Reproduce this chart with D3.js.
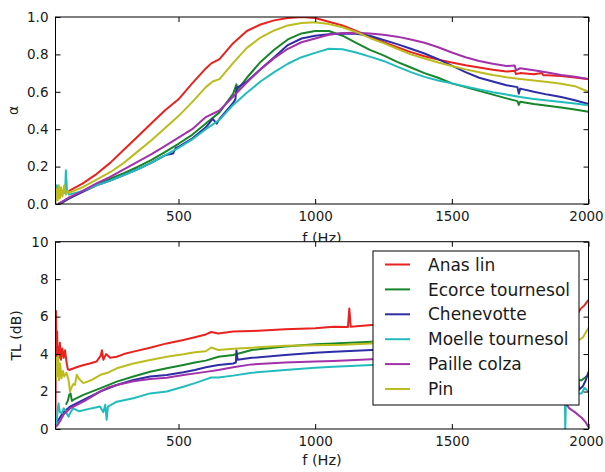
<!DOCTYPE html>
<html><head><meta charset="utf-8">
<script src="https://cdn.jsdelivr.net/npm/d3@7/dist/d3.min.js"></script>
<style>
body{margin:0;background:#fff}
svg text{font-family:"DejaVu Sans",sans-serif;fill:#1a1a1a}
</style>
</head><body>
<svg id="chart" width="605" height="472"></svg>
<script>
// ---------- DATA ----------
const seriesNames = ["Anas lin","Ecorce tournesol","Chenevotte","Moelle tournesol","Paille colza","Pin"];
const seriesColors = ["#e8221e","#17852a","#2d2da6","#22bcbd","#a232aa","#bcbc1f"];
const freqTicks = [500,1000,1500,2000];
const alphaTicks = [0,0.2,0.4,0.6,0.8,1.0];
const tlTicks = [0,2,4,6,8,10];

// absorption coefficient (top) : [f (Hz), alpha]
const alphaAnasLin = [[52,0.03],[58,0.06],[62,0.04],[70,0.05],[80,0.06],[100,0.07],[150,0.11],[200,0.16],[250,0.22],[300,0.29],[350,0.36],[400,0.43],[450,0.5],[500,0.56],[550,0.645],[600,0.725],[620,0.752],[650,0.775],[700,0.86],[750,0.925],[800,0.96],[850,0.982],[900,0.995],[950,1.0],[1000,0.995],[1050,0.975],[1100,0.955],[1150,0.925],[1200,0.895],[1250,0.865],[1300,0.838],[1350,0.812],[1400,0.79],[1450,0.772],[1500,0.757],[1550,0.742],[1600,0.73],[1650,0.718],[1700,0.708],[1730,0.712],[1735,0.695],[1750,0.7],[1800,0.694],[1830,0.7],[1835,0.688],[1850,0.689],[1900,0.684],[1950,0.676],[2000,0.667]];
const alphaEcorce = [[68,0.0],[100,0.03],[150,0.07],[200,0.105],[250,0.135],[300,0.165],[350,0.198],[400,0.235],[450,0.278],[500,0.322],[550,0.37],[600,0.43],[650,0.49],[700,0.59],[712,0.64],[716,0.61],[750,0.675],[800,0.76],[850,0.825],[900,0.88],[950,0.912],[1000,0.925],[1050,0.925],[1100,0.9],[1150,0.862],[1200,0.824],[1250,0.795],[1300,0.76],[1350,0.73],[1400,0.7],[1450,0.675],[1500,0.645],[1550,0.625],[1600,0.605],[1650,0.585],[1700,0.565],[1740,0.55],[1745,0.53],[1750,0.547],[1800,0.535],[1850,0.525],[1900,0.516],[1950,0.505],[2000,0.493]];
const alphaChenevotte = [[60,0.0],[100,0.03],[150,0.065],[200,0.1],[250,0.125],[300,0.155],[350,0.185],[400,0.22],[450,0.26],[480,0.27],[490,0.3],[500,0.305],[550,0.35],[600,0.41],[625,0.455],[640,0.43],[650,0.455],[700,0.54],[708,0.56],[712,0.62],[750,0.655],[800,0.72],[850,0.785],[900,0.85],[950,0.885],[1000,0.9],[1050,0.908],[1100,0.912],[1150,0.91],[1200,0.9],[1250,0.877],[1300,0.855],[1350,0.83],[1400,0.805],[1450,0.775],[1500,0.74],[1550,0.705],[1600,0.675],[1650,0.655],[1700,0.635],[1740,0.625],[1745,0.59],[1750,0.617],[1800,0.6],[1850,0.585],[1900,0.572],[1950,0.555],[2000,0.535]];
const alphaMoelle = [[50,0.02],[55,0.1],[60,0.05],[65,0.08],[70,0.06],[80,0.07],[85,0.06],[88,0.18],[92,0.07],[100,0.05],[150,0.07],[200,0.1],[250,0.125],[300,0.155],[350,0.185],[400,0.22],[450,0.26],[500,0.3],[550,0.345],[600,0.4],[650,0.45],[700,0.53],[750,0.595],[800,0.655],[850,0.705],[900,0.75],[950,0.785],[1000,0.808],[1050,0.83],[1100,0.828],[1150,0.81],[1200,0.788],[1250,0.765],[1300,0.735],[1350,0.705],[1400,0.68],[1450,0.66],[1500,0.645],[1550,0.628],[1600,0.613],[1650,0.598],[1700,0.585],[1750,0.572],[1800,0.562],[1850,0.553],[1900,0.545],[1950,0.537],[2000,0.528]];
const alphaPaille = [[60,0.0],[100,0.035],[150,0.07],[200,0.11],[250,0.145],[300,0.185],[350,0.225],[400,0.265],[450,0.31],[500,0.355],[550,0.4],[600,0.465],[650,0.5],[700,0.575],[750,0.65],[800,0.72],[850,0.78],[900,0.83],[950,0.865],[1000,0.885],[1050,0.905],[1100,0.914],[1150,0.916],[1200,0.912],[1250,0.905],[1300,0.895],[1350,0.88],[1400,0.862],[1450,0.838],[1500,0.81],[1550,0.785],[1600,0.765],[1650,0.75],[1700,0.738],[1730,0.74],[1735,0.715],[1750,0.726],[1800,0.715],[1850,0.703],[1900,0.69],[1950,0.68],[2000,0.668]];
const alphaPin = [[50,0.0],[54,0.08],[58,0.02],[62,0.1],[66,0.03],[70,0.09],[75,0.04],[82,0.1],[88,0.05],[95,0.07],[100,0.06],[150,0.09],[200,0.13],[250,0.17],[300,0.22],[350,0.28],[400,0.34],[450,0.405],[500,0.47],[550,0.545],[600,0.625],[625,0.655],[650,0.668],[700,0.755],[750,0.835],[800,0.89],[850,0.928],[900,0.955],[950,0.968],[1000,0.972],[1050,0.962],[1100,0.945],[1150,0.92],[1200,0.888],[1250,0.86],[1300,0.83],[1350,0.8],[1400,0.778],[1450,0.757],[1500,0.738],[1550,0.72],[1600,0.705],[1650,0.69],[1700,0.678],[1750,0.668],[1800,0.66],[1850,0.652],[1900,0.643],[1950,0.63],[2000,0.6]];

// transmission loss (bottom) : [f (Hz), TL dB]
const tlAnasLin = [[50,0.5],[52,6.3],[54,3.5],[56,5.2],[58,3.6],[60,4.4],[63,3.8],[66,4.6],[70,3.7],[75,4.3],[80,3.8],[85,4.2],[90,3.6],[95,3.2],[100,3.15],[127,3.3],[150,3.4],[176,3.5],[200,3.6],[215,3.9],[220,4.2],[225,3.7],[235,4.0],[250,3.8],[274,3.86],[300,4.0],[335,4.13],[396,4.34],[457,4.57],[518,4.75],[560,4.9],[600,5.05],[620,5.18],[646,5.1],[700,5.2],[768,5.23],[890,5.32],[1000,5.38],[1067,5.46],[1120,5.45],[1125,6.44],[1130,5.46],[1207,5.55],[1400,5.6],[1600,5.65],[1800,5.75],[1950,5.9],[1970,6.4],[1985,6.6],[2000,6.9]];
const tlEcorce = [[88,1.3],[95,1.5],[100,1.82],[105,1.9],[110,1.5],[120,1.6],[152,1.82],[213,2.17],[274,2.53],[335,2.8],[396,3.06],[457,3.24],[518,3.42],[560,3.55],[600,3.65],[646,3.86],[700,3.95],[768,4.22],[890,4.4],[1000,4.52],[1067,4.57],[1207,4.66],[1400,4.75],[1600,4.8],[1800,4.85],[1950,4.8],[1962,2.6],[1975,2.6],[2000,2.9]];
const tlChenevotte = [[52,0.3],[57,0.4],[70,0.7],[81,0.92],[103,1.19],[152,1.55],[213,2.0],[274,2.35],[335,2.62],[396,2.8],[457,2.88],[518,3.03],[560,3.15],[600,3.3],[646,3.42],[700,3.5],[710,3.55],[712,4.2],[716,3.7],[768,3.8],[890,3.95],[1000,4.07],[1067,4.13],[1207,4.22],[1400,4.3],[1600,4.35],[1800,4.4],[1955,4.4],[1965,2.1],[1980,2.3],[1990,2.6],[2000,3.05]];
const tlMoelle = [[50,0.1],[54,0.4],[58,1.0],[61,1.37],[66,0.9],[73,0.84],[80,1.1],[86,1.0],[92,0.8],[98,0.66],[105,0.9],[115,1.1],[135,0.95],[152,1.0],[180,1.1],[213,1.2],[225,0.9],[232,1.3],[237,0.5],[242,1.2],[274,1.46],[335,1.64],[396,1.9],[457,2.0],[518,2.26],[560,2.45],[600,2.65],[620,2.75],[646,2.75],[700,2.85],[768,3.0],[890,3.15],[1000,3.27],[1067,3.33],[1207,3.42],[1400,3.5],[1600,3.55],[1800,3.6],[1912,3.6],[1915,0.0],[1918,1.8],[1950,1.9],[1975,1.9],[1985,2.2],[2000,2.0]];
const tlPaille = [[50,0.1],[57,0.2],[70,0.5],[81,0.8],[103,1.1],[152,1.46],[180,1.7],[213,2.0],[240,2.2],[274,2.35],[335,2.55],[396,2.67],[457,2.74],[518,2.88],[600,3.05],[646,3.15],[700,3.3],[768,3.45],[890,3.55],[1000,3.6],[1067,3.63],[1207,3.72],[1400,3.78],[1600,3.82],[1800,3.85],[1890,3.85],[1905,2.0],[1915,1.4],[1930,1.1],[1950,0.9],[1975,0.6],[1990,0.35],[2000,0.1]];
const tlPin = [[50,2.6],[53,3.8],[56,2.8],[60,3.9],[63,2.6],[67,3.5],[72,2.7],[77,3.1],[82,2.8],[90,3.0],[98,2.6],[103,2.0],[108,2.2],[115,2.4],[121,2.35],[128,2.9],[135,2.7],[152,2.45],[180,2.6],[213,2.88],[240,3.0],[274,3.24],[300,3.35],[335,3.5],[396,3.68],[457,3.86],[518,3.99],[560,4.1],[600,4.15],[620,4.35],[646,4.22],[700,4.28],[768,4.34],[890,4.45],[1000,4.47],[1100,4.5],[1207,4.57],[1212,4.7],[1400,4.65],[1600,4.65],[1800,4.7],[1960,4.7],[1980,4.9],[2000,5.4]];

const alphaSeries = [alphaAnasLin, alphaEcorce, alphaChenevotte, alphaMoelle, alphaPaille, alphaPin];
const tlSeries = [tlAnasLin, tlEcorce, tlChenevotte, tlMoelle, tlPaille, tlPin];

// ---------- DRAW ----------
const svg = d3.select("#chart");
const L = 55.5, R = 588.5;
const x = d3.scaleLinear().domain([50, 2000]).range([L, R]);

function panel(id, top, bottom, domain, ticks, fmt, series) {
  const y = d3.scaleLinear().domain(domain).range([bottom, top]);
  const g = svg.append("g");
  g.append("rect").attr("x", L).attr("y", top).attr("width", R - L).attr("height", bottom - top).attr("fill", "#fff");
  g.append("clipPath").attr("id", id).append("rect")
    .attr("x", L).attr("y", top).attr("width", R - L).attr("height", bottom - top);
  const line = d3.line().x(d => x(d[0])).y(d => y(d[1])).curve(d3.curveLinear);
  const lg = g.append("g").attr("clip-path", `url(#${id})`);
  series.forEach((s, i) => {
    lg.append("path").attr("d", line(s)).attr("fill", "none")
      .attr("stroke", seriesColors[i]).attr("stroke-width", 2).attr("stroke-linejoin", "round");
  });
  const styleAxis = a => {
    a.select(".domain").remove();
    a.selectAll("line").attr("stroke", "#000").attr("stroke-width", 1);
    a.selectAll("text").style("font-size", "13.5px").attr("fill", "#1a1a1a");
  };
  const xb = g.append("g").attr("transform", `translate(0,${bottom})`)
    .call(d3.axisBottom(x).tickValues(freqTicks).tickSize(-5).tickPadding(7).tickFormat(d3.format("d"))).call(styleAxis);
  // the last label sits just inside the figure edge
  xb.selectAll(".tick").filter(d => d === 2000).select("text").attr("x", -2.5);
  g.append("g").attr("transform", `translate(0,${top})`)
    .call(d3.axisTop(x).tickValues(freqTicks).tickSize(-5).tickFormat("")).call(styleAxis);
  g.append("g").attr("transform", `translate(${L},0)`)
    .call(d3.axisLeft(y).tickValues(ticks).tickSize(-5).tickPadding(7).tickFormat(fmt)).call(styleAxis);
  g.append("g").attr("transform", `translate(${R},0)`)
    .call(d3.axisRight(y).tickValues(ticks).tickSize(-5).tickFormat("")).call(styleAxis);
  g.append("rect").attr("x", L).attr("y", top).attr("width", R - L).attr("height", bottom - top)
    .attr("fill", "none").attr("stroke", "#000").attr("stroke-width", 1);
  return {g, y};
}

const topTop = 17, topBottom = 204, botTop = 241.7, botBottom = 429;
const p1 = panel("clipA", topTop, topBottom, [0, 1], alphaTicks, d3.format(".1f"), alphaSeries);
svg.append("text").attr("x", (L + R) / 2).attr("y", 242.5).attr("text-anchor", "middle")
  .style("font-size", "14.5px").text("f (Hz)");
svg.append("text").attr("transform", `translate(17.5,${(topTop + topBottom) / 2}) rotate(-90)`)
  .attr("text-anchor", "middle").style("font-size", "14px").text("α");

const p2 = panel("clipB", botTop, botBottom, [0, 10], tlTicks, d3.format("d"), tlSeries);
svg.append("text").attr("x", (L + R) / 2).attr("y", 465).attr("text-anchor", "middle")
  .style("font-size", "14.5px").text("f (Hz)");
svg.append("text").attr("transform", `translate(21,${(botTop + botBottom) / 2}) rotate(-90)`)
  .attr("text-anchor", "middle").style("font-size", "14px").text("TL (dB)");

// legend
const leg = svg.append("g");
leg.append("rect").attr("x", 373).attr("y", 251).attr("width", 206).attr("height", 154)
  .attr("fill", "#fff").attr("stroke", "#000").attr("stroke-width", 1);
seriesNames.forEach((n, i) => {
  const yy = 264.5 + i * 24.9;
  leg.append("line").attr("x1", 385).attr("x2", 410).attr("y1", yy).attr("y2", yy)
    .attr("stroke", seriesColors[i]).attr("stroke-width", 2);
  leg.append("text").attr("x", 428).attr("y", yy).attr("dy", "0.36em")
    .style("font-size", "17px").text(n);
});
</script>
</body></html>
